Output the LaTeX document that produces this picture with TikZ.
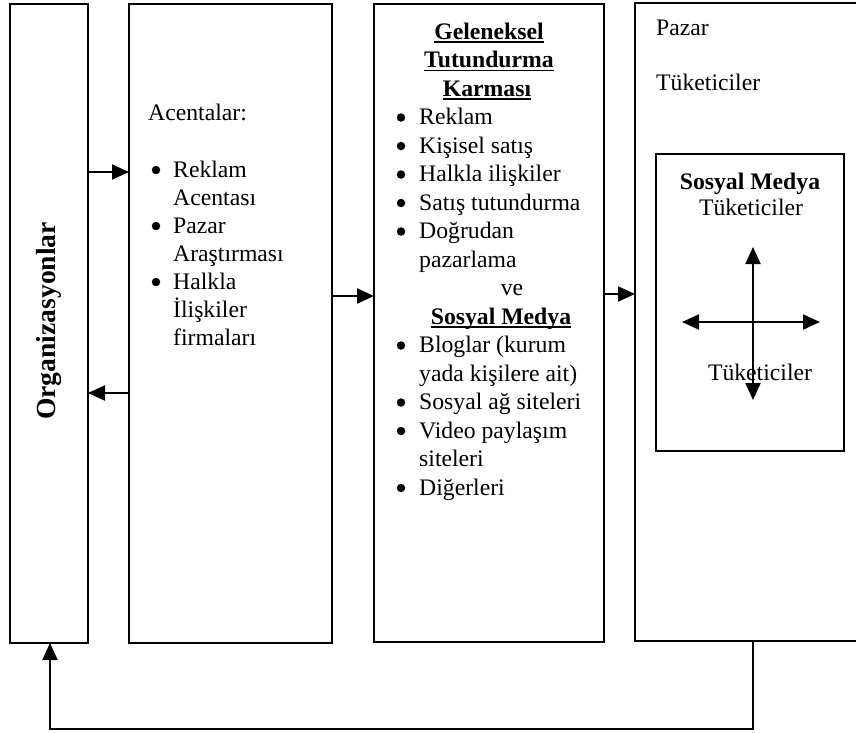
\documentclass[tikz,border=0pt]{standalone}
\usepackage{fontspec}
\setmainfont{Liberation Serif}
\usetikzlibrary{arrows.meta}
\newcommand\myul[1]{\setbox0\hbox{#1}\rlap{\rule[-3.5pt]{\wd0}{1.5pt}}\box0}
\begin{document}
\begin{tikzpicture}[x=1pt,y=-1pt,
  box/.style={draw, line width=2pt, inner sep=0pt, outer sep=0pt},
  arr/.style={line width=2pt, -{Triangle[length=17pt,width=15pt]}},
  darr/.style={line width=2pt, {Triangle[length=17pt,width=15pt]}-{Triangle[length=17pt,width=15pt]}},
  txt/.style={font=\fontsize{23.7}{28.5}\selectfont, inner sep=0pt, anchor=base west},
  ctxt/.style={txt, anchor=base},
  btxt/.style={ctxt, font=\fontsize{23.7}{28.5}\selectfont\bfseries},
  bul/.style={circle, fill, inner sep=0pt, minimum size=8.5pt}]
\clip (0,0) rectangle (856,732);
% boxes
\node[box, minimum width=78, minimum height=639] (org) at (49,323.5) {};
\node[box, minimum width=203, minimum height=639] (agen) at (230.5,323.5) {};
\node[box, minimum width=230, minimum height=638] (trad) at (489,323) {};
\node[box, minimum width=240, minimum height=638] (mkt) at (755,322) {};
\node[box, minimum width=188, minimum height=297] (inner) at (750,302.5) {};
% box 1 text
\node[txt, font=\fontsize{27.6}{33}\selectfont\bfseries, anchor=base, rotate=90] (orgt) at (55,321) {Organizasyonlar};
% box 2 text
\node[txt] (ag0) at (148,120) {Acentalar:};
\node[bul] (agb1) at (156,170) {};
\node[txt] (ag1) at (173,177) {Reklam};
\node[txt] (ag2) at (173,205) {Acentası};
\node[bul] (agb3) at (156,226) {};
\node[txt] (ag3) at (173,233) {Pazar};
\node[txt] (ag4) at (173,261) {Araştırması};
\node[bul] (agb5) at (156,282) {};
\node[txt] (ag5) at (173,289) {Halkla};
\node[txt] (ag6) at (173,317) {İlişkiler};
\node[txt] (ag7) at (173,345) {firmaları};
% box 3 text
\node[btxt] (tr0) at (489,39) {\myul{Geleneksel}};
\node[btxt] (tr1) at (489,67.5) {\myul{Tutundurma}};
\node[btxt] (tr2) at (487,96) {\myul{Karması}};
\node[bul] (trb3) at (401,117.5) {};
\node[txt] (tr3) at (419,124.5) {Reklam};
\node[bul] (trb4) at (401,146) {};
\node[txt] (tr4) at (419,153) {Kişisel satış};
\node[bul] (trb5) at (401,174.5) {};
\node[txt] (tr5) at (419,181.5) {Halkla ilişkiler};
\node[bul] (trb6) at (401,203) {};
\node[txt] (tr6) at (419,210) {Satış tutundurma};
\node[bul] (trb7) at (401,231.5) {};
\node[txt] (tr7) at (419,238.5) {Doğrudan};
\node[txt] (tr8) at (419,267) {pazarlama};
\node[ctxt] (tr9) at (512,295.5) {ve};
\node[btxt] (tr10) at (501,324) {\myul{Sosyal Medya}};
\node[bul] (trb11) at (401,345.5) {};
\node[txt] (tr11) at (419,352.5) {Bloglar (kurum};
\node[txt] (tr12) at (419,381) {yada kişilere ait)};
\node[bul] (trb13) at (401,402.5) {};
\node[txt] (tr13) at (419,409.5) {Sosyal ağ siteleri};
\node[bul] (trb14) at (401,431) {};
\node[txt] (tr14) at (419,438) {Video paylaşım};
\node[txt] (tr15) at (419,466.5) {siteleri};
\node[bul] (trb16) at (401,488) {};
\node[txt] (tr16) at (419,495) {Diğerleri};
% box 4 text
\node[txt] (mk0) at (656,35) {Pazar};
\node[txt] (mk1) at (656,90) {Tüketiciler};
\node[btxt] (in0) at (750,189) {Sosyal Medya};
\node[ctxt] (in1) at (751,215) {Tüketiciler};
\node[ctxt] (in2) at (760,380) {Tüketiciler};
% connectors
\draw[arr] (org.east |- 0,172) -- (agen.west |- 0,172);
\draw[arr] (agen.west |- 0,393) -- (org.east |- 0,393);
\draw[arr] (agen.east |- 0,296) -- (trad.west |- 0,296);
\draw[arr] (trad.east |- 0,294) -- (mkt.west |- 0,294);
\coordinate (fbr) at (753,729);
\coordinate (fbl) at (50,729);
\draw[arr] (mkt.south -| fbr) -- (fbr) -- (fbl) -- (org.south -| fbl);
\coordinate (vt) at (753,247);
\coordinate (vb) at (753,400);
\coordinate (hl) at (682,322);
\coordinate (hr) at (820,322);
\draw[darr] (vb) -- (vt);
\draw[darr] (hl) -- (hr);
\end{tikzpicture}
\end{document}
